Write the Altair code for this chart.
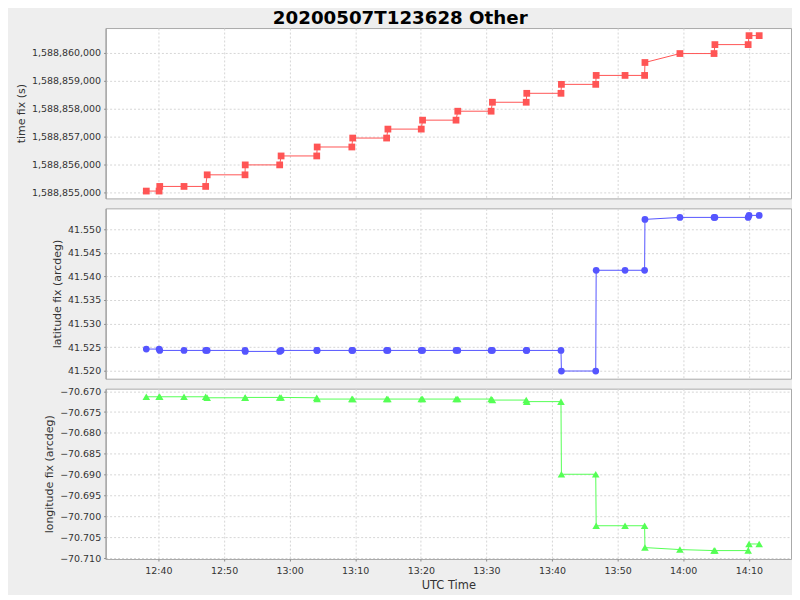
import altair as alt
import pandas as pd

# ---- data ----
utc_times = ["12:38:09", "12:40:06", "12:40:12", "12:43:54", "12:47:12", "12:47:26",
             "12:53:12", "12:53:14", "12:58:29", "12:58:42", "13:04:08", "13:04:12",
             "13:09:29", "13:09:37", "13:14:47", "13:14:59", "13:20:04", "13:20:16",
             "13:25:22", "13:25:38", "13:30:43", "13:30:55", "13:36:04", "13:36:09",
             "13:41:22", "13:41:26", "13:46:40", "13:46:44", "13:51:08", "13:54:07",
             "13:54:10", "13:59:30", "14:04:42", "14:04:50", "14:09:54", "14:10:02",
             "14:11:35"]

time_fix = [1588855059, 1588855059, 1588855225, 1588855225, 1588855225, 1588855640,
            1588855640, 1588855995, 1588855995, 1588856315, 1588856315, 1588856635,
            1588856635, 1588856955, 1588856955, 1588857275, 1588857275, 1588857595,
            1588857595, 1588857915, 1588857915, 1588858235, 1588858235, 1588858555,
            1588858555, 1588858875, 1588858875, 1588859195, 1588859195, 1588859195,
            1588859657, 1588859977, 1588859977, 1588860297, 1588860297, 1588860617,
            1588860617]

lat_fix = [41.52459, 41.52459, 41.52430, 41.52430, 41.52430, 41.52430,
           41.52430, 41.52409, 41.52409, 41.52430, 41.52430, 41.52430,
           41.52430, 41.52430, 41.52430, 41.52430, 41.52430, 41.52430,
           41.52430, 41.52430, 41.52430, 41.52430, 41.52430, 41.52430,
           41.52430, 41.51993, 41.51993, 41.54131, 41.54131, 41.54131,
           41.55211, 41.55253, 41.55253, 41.55253, 41.55253, 41.55296,
           41.55296]

lon_fix = [-70.67134, -70.67134, -70.67134, -70.67134, -70.67134, -70.67158,
           -70.67158, -70.67150, -70.67150, -70.67150, -70.67158, -70.67189,
           -70.67189, -70.67189, -70.67189, -70.67189, -70.67189, -70.67189,
           -70.67189, -70.67189, -70.67189, -70.67213, -70.67213, -70.67250,
           -70.67250, -70.68990, -70.68990, -70.70223, -70.70223, -70.70223,
           -70.70746, -70.70794, -70.70818, -70.70818, -70.70818, -70.70660,
           -70.70660]

x_tick_labels = ["12:40", "12:50", "13:00", "13:10", "13:20", "13:30", "13:40",
                 "13:50", "14:00", "14:10"]
time_ticks = [1588855000, 1588856000, 1588857000, 1588858000, 1588859000, 1588860000]
lat_ticks = [41.520, 41.525, 41.530, 41.535, 41.540, 41.545, 41.550]
lon_ticks = [-70.710, -70.705, -70.700, -70.695, -70.690, -70.685, -70.680, -70.675, -70.670]

df = pd.DataFrame({
    "idx": list(range(len(utc_times))),
    "t": ["2020-05-07T" + s + "Z" for s in utc_times],
    "time_fix": time_fix,
    "lat": lat_fix,
    "lon": lon_fix,
})


def dt(hm, sec=0):
    h, m = hm.split(":")
    return alt.DateTime(year=2020, month=5, date=7, hours=int(h), minutes=int(m),
                        seconds=sec, utc=True)


x_dom = [dt("12:31", 57), dt("14:16", 26)]
x_vals = [dt(s) for s in x_tick_labels]

W, H = 688, 171


def xenc(show):
    kw = dict(format="%H:%M", values=x_vals, tickCount=30, labels=show, ticks=show,
              domain=False, grid=True, labelPadding=5, titlePadding=4.5, tickSize=2,
              titleFontSize=11.5)
    if show:
        kw["title"] = "UTC Time"
    else:
        kw["title"] = ""
    return alt.X("t:T", scale=alt.Scale(type="utc", domain=x_dom, nice=False),
                 axis=alt.Axis(**kw))


def panel(field, title, dom, ticks, fmt, color, shape, size, show_x):
    axis_kw = dict(values=ticks, tickCount=30, title=title, grid=True, tickSize=2,
                   labelPadding=3, titlePadding=5, format=fmt, labelOverlap=False)
    line = alt.Chart(df).mark_line(color=color, strokeWidth=1).encode(
        x=xenc(show_x),
        y=alt.Y(f"{field}:Q", scale=alt.Scale(domain=dom, nice=False, zero=False),
                axis=alt.Axis(**axis_kw)),
        order="idx:Q",
    )
    pts = alt.Chart(df).mark_point(shape=shape, filled=True, color=color, size=size,
                                   opacity=1).encode(
        x="t:T",
        y=f"{field}:Q",
    )
    return alt.layer(line, pts).properties(width=W, height=H)


p1 = panel("time_fix", "time fix (s)", [1588854797, 1588860889], time_ticks, ",d",
           "#ff5555", "square", 46, False)
p2 = panel("lat", "latitude fix (arcdeg)", [41.5183, 41.55445], lat_ticks, ".3f",
           "#5555ff", "circle", 46, False)
p3 = panel("lon", "longitude fix (arcdeg)", [-70.7102, -70.6694], lon_ticks, ".3f",
           "#55ff55", "triangle-up", 58, True)

chart = alt.vconcat(p1, p2, p3, spacing=10, bounds="flush").properties(
    title=alt.TitleParams(
        "20200507T123628 Other", font="DejaVu Sans", fontSize=18.3, fontWeight="bold",
        color="#000000", anchor="middle", offset=-1, dx=-3,
    ),
    background="#eeeeee",
    padding={"left": 6, "top": 0, "right": 0, "bottom": 2},
).configure_view(
    fill="white", stroke="#aaaaaa", strokeWidth=1,
).configure_axis(
    labelFont="DejaVu Sans", labelFontSize=9.5, labelColor="#333333",
    titleFont="DejaVu Sans", titleFontSize=11, titleFontWeight="normal", titleColor="#333333",
    tickColor="#888888", domainColor="#999999",
    gridColor="#d6d6d6", gridDash=[2, 2], gridWidth=1,
)

chart.save("out.html", embed_options={"renderer": "svg", "actions": False})
